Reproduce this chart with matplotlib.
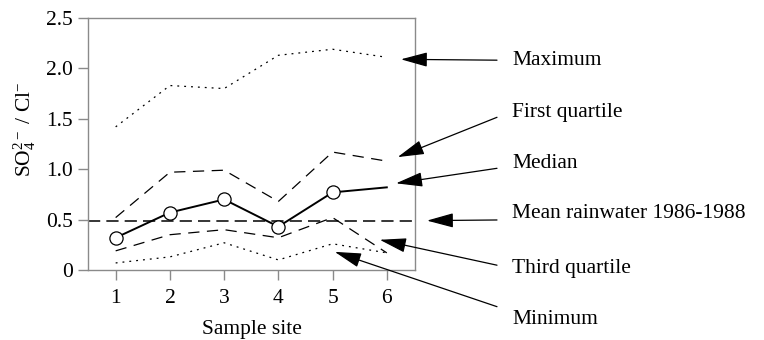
import matplotlib.pyplot as plt

plt.rcParams['font.family'] = 'Liberation Serif'
plt.rcParams['mathtext.fontset'] = 'custom'
plt.rcParams['mathtext.rm'] = 'Liberation Serif'
plt.rcParams['mathtext.it'] = 'Liberation Serif:italic'

# SO4/Cl ratio statistics per sample site
sites = [1, 2, 3, 4, 5, 6]
maximum = [1.42, 1.83, 1.80, 2.13, 2.19, 2.11]
first_quartile = [0.52, 0.97, 0.99, 0.68, 1.17, 1.08]
median = [0.32, 0.57, 0.70, 0.43, 0.77, 0.82]
third_quartile = [0.19, 0.35, 0.40, 0.32, 0.52, 0.17]
minimum = [0.07, 0.13, 0.27, 0.10, 0.26, 0.17]
mean_rainwater = 0.49

# label text, arrow target (data coords), label height (figure fraction)
labels = ['Maximum', 'First quartile', 'Median', 'Mean rainwater 1986-1988',
          'Third quartile', 'Minimum']
targets = [(6.26, 2.09), (6.2, 1.12), (6.17, 0.86), (6.74, 0.49),
           (5.87, 0.30), (5.04, 0.18)]
label_y = [0.823, 0.67, 0.52, 0.373, 0.21, 0.06]
tail_y = [0.823, 0.655, 0.505, 0.353, 0.22, 0.098]

fig = plt.figure(figsize=(7.64, 3.40), dpi=100)
ax = fig.add_axes([88 / 764, 70 / 340, 327 / 764, 252 / 340])

ax.plot(sites, maximum, color='black', lw=0.9, ls=(0, (1.5, 4)))
ax.plot(sites, first_quartile, color='black', lw=0.9, ls=(0, (9, 6)))
ax.plot(sites[:5], median[:5], color='black', lw=1.4, marker='o', ms=9.5,
        mfc='white', mec='black', mew=0.9, zorder=4)
ax.plot(sites[4:], median[4:], color='black', lw=1.4)
ax.plot(sites, third_quartile, color='black', lw=0.9, ls=(0, (9, 6)))
ax.plot(sites, minimum, color='black', lw=0.9, ls=(0, (1.5, 4)))
ax.axhline(mean_rainwater, color='black', lw=1.1, ls=(0, (8, 4)))

ax.set_xlim(0.49, 6.52)
ax.set_ylim(0, 2.5)
ax.set_xticks(sites)
ax.set_yticks([0, 0.5, 1.0, 1.5, 2.0, 2.5])
ax.set_yticklabels(['0', '0.5', '1.0', '1.5', '2.0', '2.5'])
for s in ax.spines.values():
    s.set_color('#8a8a8a')
    s.set_linewidth(1.0)
ax.tick_params(direction='out', length=7, width=1.0, color='#8a8a8a',
               labelsize=15.5)
ax.tick_params(axis='x', pad=7)
ax.tick_params(axis='y', pad=4)
ax.set_xlabel('Sample site', fontsize=15.5, labelpad=8)
ax.set_ylabel(r'SO$_4^{2-}$ / Cl$^{-}$', fontsize=15.5)
ax.yaxis.set_label_coords(-0.152, 0.56)

for text, xy, ly, ty in zip(labels, targets, label_y, tail_y):
    ax.annotate('', xy=xy, xycoords='data', xytext=(497 / 764, ty),
                textcoords='figure fraction', annotation_clip=False,
                arrowprops=dict(arrowstyle='-|>,head_length=1.65,head_width=0.45',
                                color='black', lw=0.9, shrinkA=0, shrinkB=0))
    fig.text(512 / 764, ly, text, fontsize=15.5, va='center', ha='left')

fig.savefig('out.png', dpi=100)
